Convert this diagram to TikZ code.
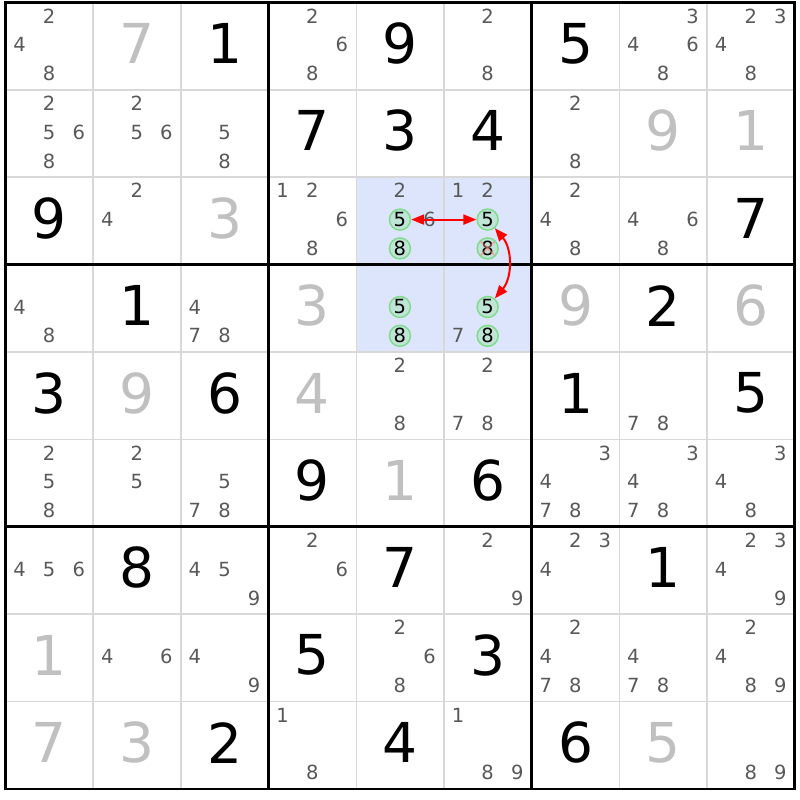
\documentclass[tikz,border=0pt]{standalone}
\usepackage{fontspec}
\setmainfont{DejaVu Sans}
\usetikzlibrary{arrows.meta}

\definecolor{candgray}{RGB}{88,88,88}
\definecolor{solvedgray}{RGB}{192,192,192}
\definecolor{thingrid}{RGB}{216,216,216}
\definecolor{pairblue}{RGB}{220,229,251}
\definecolor{ringfill}{RGB}{190,229,214}
\definecolor{ringdraw}{RGB}{128,220,140}

\newcommand\candxy[3]{%
\pgfmathsetmacro\cx{#2-1+0.16+0.3375*mod(#3-1,3)}%
\pgfmathsetmacro\cy{10-#1-0.155-0.33*div(#3-1,3)}%
}

\begin{document}
\begin{tikzpicture}[x=87.7pt, y=87.4pt,
given/.style={font={\fontsize{55}{55}\selectfont}, text=black, inner sep=0pt},
solved/.style={given, text=solvedgray},
cand/.style={font={\fontsize{19.5}{19.5}\selectfont}, text=candgray, inner sep=0pt},
ring/.style={cand, text=black, circle, draw=ringdraw, fill=ringfill, line width=1.5pt, minimum size=21pt},
thingrid/.style={draw=thingrid, line width=1.5pt},
thickgrid/.style={draw=black, line width=2.7pt},
link/.style={red, line width=2pt, {Triangle[length=13pt,width=10pt]}-{Triangle[length=13pt,width=10pt]}},
strike/.style={red!50, line width=2pt, opacity=0.5}]

\useasboundingbox (-5.5pt,-11pt) rectangle (794.5pt,789pt);

\fill [pairblue] (4,5) rectangle (6,7);

\foreach \i in {1,...,8} {
\draw [thingrid] (\i,0) -- (\i,9);
\draw [thingrid] (0,\i) -- (9,\i);
}

\foreach \i in {3,6} {
\draw [thickgrid] (\i,0) -- (\i,9);
\draw [thickgrid] (0,\i) -- (9,\i);
}

\draw [thickgrid] (0,0) rectangle (9,9);

\foreach \r/\c/\v in {1/3/1, 1/5/9, 1/7/5, 2/4/7, 2/5/3, 2/6/4, 3/1/9, 3/9/7,
4/2/1, 4/8/2, 5/1/3, 5/3/6, 5/7/1, 5/9/5, 6/4/9, 6/6/6,
7/2/8, 7/5/7, 7/8/1, 8/4/5, 8/6/3, 9/3/2, 9/5/4, 9/7/6}
\node at (\c-0.5, 10-\r-0.47) [given] (g\r\c) {\v};

\foreach \r/\c/\v in {1/2/7, 2/8/9, 2/9/1, 3/3/3, 4/4/3, 4/7/9, 4/9/6,
5/2/9, 5/4/4, 6/5/1, 8/1/1, 9/1/7, 9/2/3, 9/8/5}
\node at (\c-0.5, 10-\r-0.47) [solved] (s\r\c) {\v};

\foreach \r/\c/\cands in {1/1/{2,4,8}, 1/4/{2,6,8}, 1/6/{2,8}, 1/8/{3,4,6,8}, 1/9/{2,3,4,8},
2/1/{2,5,6,8}, 2/2/{2,5,6}, 2/3/{5,8}, 2/7/{2,8},
3/2/{2,4}, 3/4/{1,2,6,8}, 3/5/{2,6}, 3/6/{1,2}, 3/7/{2,4,8}, 3/8/{4,6,8},
4/1/{4,8}, 4/3/{4,7,8}, 4/6/{7},
5/5/{2,8}, 5/6/{2,7,8}, 5/8/{7,8},
6/1/{2,5,8}, 6/2/{2,5}, 6/3/{5,7,8}, 6/7/{3,4,7,8}, 6/8/{3,4,7,8}, 6/9/{3,4,8},
7/1/{4,5,6}, 7/3/{4,5,9}, 7/4/{2,6}, 7/6/{2,9}, 7/7/{2,3,4}, 7/9/{2,3,4,9},
8/2/{4,6}, 8/3/{4,9}, 8/5/{2,6,8}, 8/7/{2,4,7,8}, 8/8/{4,7,8}, 8/9/{2,4,8,9},
9/4/{1,8}, 9/6/{1,8,9}, 9/9/{8,9}}
\foreach \k in \cands {
\candxy{\r}{\c}{\k}
\node at (\cx,\cy) [cand] (n\r\c\k) {\k};
}

\foreach \r/\c/\k in {3/5/5, 3/5/8, 3/6/5, 3/6/8, 4/5/5, 4/5/8, 4/6/5, 4/6/8} {
\candxy{\r}{\c}{\k}
\node at (\cx,\cy) [ring] (n\r\c\k) {\k};
}

\draw [strike] ([shift={(-7pt,-7pt)}]n368.center) -- ([shift={(7pt,7pt)}]n368.center);
\draw [strike] ([shift={(-7pt,7pt)}]n368.center) -- ([shift={(7pt,-7pt)}]n368.center);

\draw [link] (n355) -- (n365);

\draw [link] (n365) to [bend left=40] (n465);

\end{tikzpicture}
\end{document}
